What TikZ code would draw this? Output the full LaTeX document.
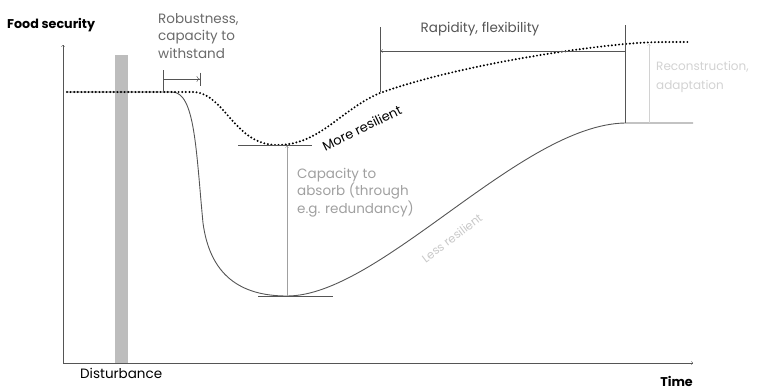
\documentclass[tikz,border=0pt]{standalone}
\usepackage{fontspec}
\setmainfont{Poppins}
\usetikzlibrary{arrows,arrows.meta,positioning,calc}
\definecolor{linegray}{HTML}{555555}
\definecolor{textgray}{HTML}{6A6A6A}
\definecolor{softgray}{HTML}{A0A0A0}
\definecolor{palegray}{HTML}{D2D2D2}
\definecolor{bargray}{HTML}{BDBDBD}
\tikzset{
  axis line/.style={->, draw=linegray, thin},
  less curve/.style={draw=linegray, line width=0.9pt},
  more curve/.style={draw=black, line width=2.2pt, line cap=round,
    dash pattern=on 0pt off 3.6pt},
  guide/.style={draw=linegray, thin},
  soft guide/.style={draw=softgray, thin},
  note/.style={font=\fontsize{13.5}{17.5}\selectfont, align=left,
    inner sep=0pt, anchor=north west},
  axis label/.style={font=\fontsize{12.7}{14}\selectfont\bfseries, inner sep=0pt}
}
\begin{document}
\begin{tikzpicture}[x=1pt, y=-1pt, >=to]
 \useasboundingbox (0,0) rectangle (770,391);
 % axes and disturbance
 \coordinate (origin) at (63,363);
 \coordinate (ytop) at (63,45);
 \coordinate (xend) at (693,363);
 \fill[bargray] (115,55) rectangle (128,363);
 \draw[axis line] (origin) -- (ytop);
 \draw[axis line] (origin) -- (xend);
 \node[axis label, anchor=west] (food) at (7,25) {Food security};
 \node[axis label, anchor=base east] (time) at (693,386) {Time};
 \node[font=\fontsize{13.5}{14}\selectfont, anchor=north west, inner sep=0pt]
   (dist) at (80,368) {Disturbance};
 % curves
 \coordinate (start) at (67,92);
 \coordinate (drop) at (172,92);
 \coordinate (less min) at (287,296);
 \coordinate (less top) at (625,123);
 \coordinate (less end) at (693,123);
 \coordinate (bend) at (195,92);
 \coordinate (more min) at (277,145);
 \coordinate (more top) at (625,44);
 \coordinate (more end) at (690,42);
 \draw[less curve] (start) -- (drop) .. controls (195,92) and (196,150) .. (203,223)
   .. controls (210,275) and (240,296) .. (less min)
   .. controls (380,296) and (520,125) .. (less top) -- (less end);
 \draw[more curve] (start) -- (bend) .. controls (225,95) and (235,145) .. (more min)
   .. controls (320,145) and (340,110) .. (380,93)
   .. controls (450,68) and (560,50) .. (more top)
   .. controls (650,42) .. (more end);
 \node[font=\fontsize{13}{14}\selectfont, rotate=26, inner sep=0pt]
   (more) at (362,128) {More resilient};
 \node[font=\fontsize{11.5}{12}\selectfont, text=palegray!80!softgray, rotate=37, inner sep=0pt]
   (less) at (452,238) {Less resilient};
 % robustness
 \node[note, text=textgray] (robust) at (158,13) {Robustness,\\capacity to\\withstand};
 \coordinate (rob a) at (163,70);
 \coordinate (rob b) at (163,92);
 \coordinate (rob l) at (163,79);
 \coordinate (rob r) at (200,79);
 \draw[guide] (rob a) -- (rob b);
 \draw[guide, -{To[length=3pt,width=6pt]Bar[width=13pt]}] (rob l) -- (rob r);
 % absorb
 \coordinate (abs top) at (287,146);
 \draw[guide] (238,145) -- (312,145);
 \draw[guide] (258,296) -- (333,296);
 \draw[soft guide, ->] (less min) -- (abs top);
 \node[note, text=softgray] (absorb) at (297,168)
   {Capacity to\\absorb (through\\e.g. redundancy)};
 % rapidity
 \coordinate (rap a) at (380,27);
 \coordinate (rap b) at (380,92);
 \coordinate (rap c) at (625,25);
 \coordinate (rap l) at (381,51);
 \coordinate (rap r) at (625,51);
 \draw[guide] (rap a) -- (rap b);
 \draw[guide] (rap c) -- (less top);
 \draw[guide, ->] (rap r) -- (rap l);
 \node[font=\fontsize{13.5}{14}\selectfont, text=linegray, inner sep=0pt]
   (rapid) at (480,29) {Rapidity, flexibility};
 % recovery
 \coordinate (rec top) at (649,44);
 \coordinate (rec bot) at (649,123);
 \draw[soft guide, draw=palegray, ->] (rec bot) -- (rec top);
 \node[font=\fontsize{12}{19}\selectfont, align=left, inner sep=0pt, anchor=north west,
   text=palegray] (recon) at (656,61) {Reconstruction,\\adaptation};
\end{tikzpicture}
\end{document}
